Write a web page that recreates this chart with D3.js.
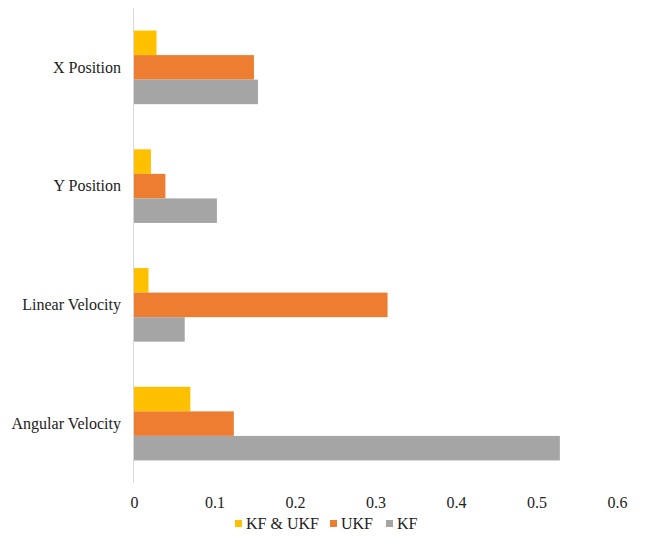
<!DOCTYPE html>
<html>
<head>
<meta charset="utf-8">
<script src="https://cdn.jsdelivr.net/npm/d3@7/dist/d3.min.js"></script>
<style>
  html, body { margin: 0; padding: 0; background: #fff; }
</style>
</head>
<body>
<svg id="chart" width="645" height="536"></svg>
<script>
// Error metrics per state variable for each filter
const categories = ["X Position", "Y Position", "Linear Velocity", "Angular Velocity"];
const seriesNames = ["KF & UKF", "UKF", "KF"];
const kfUkf = [0.028, 0.021, 0.018, 0.070];
const ukf   = [0.149, 0.039, 0.315, 0.124];
const kf    = [0.154, 0.103, 0.063, 0.529];
const xTicks = [0, 0.1, 0.2, 0.3, 0.4, 0.5, 0.6];
const colors = ["#FFC000", "#ED7D31", "#A5A5A5"];

const series = [kfUkf, ukf, kf];
const serif = "'Liberation Serif'";

const svg = d3.select("#chart");
const x = d3.scaleLinear().domain([0, 0.6]).range([134, 617]);
const y = d3.scaleBand().domain(categories).range([8, 483])
  .paddingInner(0.38).paddingOuter(0.19);
const inner = d3.scaleBand().domain(seriesNames).range([0, y.bandwidth()]);

// bars
categories.forEach((cat, i) => {
  const g = svg.append("g").attr("transform", `translate(0,${y(cat)})`);
  g.selectAll("rect")
    .data(series.map((s, k) => ({ name: seriesNames[k], v: s[i], c: colors[k] })))
    .join("rect")
    .attr("x", x(0))
    .attr("y", d => inner(d.name))
    .attr("width", d => x(d.v) - x(0))
    .attr("height", inner.bandwidth())
    .attr("fill", d => d.c);
});

// vertical category axis line
svg.append("line")
  .attr("x1", x(0) - 0.5).attr("x2", x(0) - 0.5)
  .attr("y1", 8).attr("y2", 483)
  .attr("stroke", "#d9d9d9").attr("stroke-width", 1);

// category labels
const yAxis = d3.axisLeft(y).tickSize(0).tickPadding(13);
const ya = svg.append("g").attr("transform", `translate(${x(0)},0)`).call(yAxis);
ya.select(".domain").remove();
ya.selectAll("text")
  .style("font-family", serif)
  .style("font-size", "16px").attr("fill", "#222");

// value axis labels
const xAxis = d3.axisBottom(x).tickValues(xTicks).tickFormat(d3.format("")).tickSize(0).tickPadding(14);
const xa = svg.append("g").attr("transform", "translate(0,483)").call(xAxis);
xa.select(".domain").remove();
xa.selectAll("text")
  .style("font-family", serif)
  .style("font-size", "16px").attr("fill", "#222");

// legend
const legendX = [235, 330, 386];
const legend = svg.append("g");
seriesNames.forEach((n, k) => {
  legend.append("rect")
    .attr("x", legendX[k]).attr("y", 520).attr("width", 7).attr("height", 7)
    .attr("fill", colors[k]);
  legend.append("text")
    .attr("x", legendX[k] + 11).attr("y", 529)
    .style("font-family", serif)
    .style("font-size", "16px").attr("fill", "#222")
    .text(n);
});
</script>
</body>
</html>
